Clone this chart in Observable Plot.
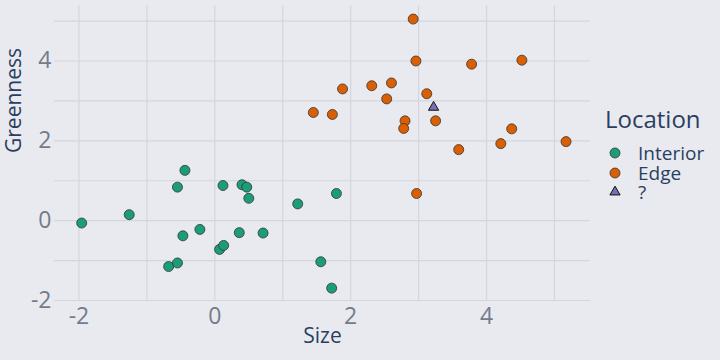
<!DOCTYPE html>
<html>
<head>
<meta charset="utf-8">
<script src="https://cdn.jsdelivr.net/npm/d3@7"></script>
<script src="https://cdn.jsdelivr.net/npm/@observablehq/plot@0.6"></script>
<style>
  html, body { margin: 0; padding: 0; background: #E9EAEF; }
  #wrap { position: relative; width: 720px; height: 360px; font-family: "Open Sans", sans-serif; }
  #legend { position: absolute; left: 590px; top: 90px; }
</style>
</head>
<body>
<div id="wrap"></div>
<script>
// Data
const interiorX = [-1.96, -1.26, -0.55, -0.44, 0.12, 0.40, 0.47, 0.50, 1.22, 1.79, 1.56, 1.72, -0.47, -0.22, 0.36, 0.71, 0.07, 0.13, -0.68, -0.55];
const interiorY = [-0.06, 0.15, 0.84, 1.26, 0.88, 0.90, 0.84, 0.56, 0.42, 0.68, -1.03, -1.69, -0.38, -0.22, -0.30, -0.31, -0.72, -0.62, -1.15, -1.06];
const edgeX = [2.92, 2.96, 3.78, 4.52, 1.88, 2.31, 2.60, 2.53, 3.12, 1.45, 1.73, 2.80, 2.78, 3.25, 4.37, 4.21, 3.59, 5.17, 2.97];
const edgeY = [5.05, 4.00, 3.92, 4.02, 3.30, 3.38, 3.45, 3.05, 3.18, 2.71, 2.66, 2.50, 2.31, 2.50, 2.30, 1.93, 1.78, 1.98, 0.68];
const unknownX = [3.22];
const unknownY = [2.84];
const locations = ["Interior", "Edge", "?"];
const colors = ["#1B9E77", "#D95F02", "#7570B3"];
const xTicks = [-2, 0, 2, 4];
const yTicks = [-2, 0, 2, 4];
const xGrid = [-2, -1, 0, 1, 2, 3, 4, 5];
const yGrid = [-2, -1, 0, 1, 2, 3, 4, 5];

const rows = [];
interiorX.forEach((x, i) => rows.push({x, y: interiorY[i], loc: "Interior"}));
edgeX.forEach((x, i) => rows.push({x, y: edgeY[i], loc: "Edge"}));
const unk = unknownX.map((x, i) => ({x, y: unknownY[i], loc: "?"}));

const gridColor = "#D3D6DD";
const tickColor = "#737B8C";
const titleColor = "#2A3F5F";
const fmt = d => String(d);

const chart = Plot.plot({
  width: 720,
  height: 360,
  marginLeft: 54,
  marginRight: 130,
  marginTop: 5,
  marginBottom: 60,
  style: { background: "#E9EAEF", fontFamily: "Open Sans, sans-serif", overflow: "visible" },
  x: { domain: [-2.36, 5.53] },
  y: { domain: [-2, 5.39] },
  color: { domain: locations, range: colors },
  marks: [
    Plot.ruleX(xGrid, { stroke: gridColor, strokeWidth: 1.2 }),
    Plot.ruleY(yGrid, { stroke: gridColor, strokeWidth: 1.2 }),
    Plot.axisX(xTicks, { tickSize: 0, tickPadding: 7, fontSize: 23, color: tickColor, label: null, tickFormat: fmt }),
    Plot.axisY(yTicks, { tickSize: 0, tickPadding: 3, fontSize: 23, color: tickColor, label: null, tickFormat: fmt }),
    Plot.text(["Size"], { frameAnchor: "bottom", dy: 42, fontSize: 21, fill: titleColor }),
    Plot.text(["Greenness"], { frameAnchor: "left", dx: -40, rotate: -90, fontSize: 21, fill: titleColor }),
    Plot.dot(rows, { x: "x", y: "y", fill: "loc", r: 5, stroke: "#333", strokeWidth: 0.8, symbol: "circle" }),
    Plot.dot(unk, { x: "x", y: "y", fill: "loc", r: 3.8, stroke: "#111", strokeWidth: 1, symbol: "triangle" })
  ]
});

const wrap = document.getElementById("wrap");
wrap.appendChild(chart);

// Legend
const ns = "http://www.w3.org/2000/svg";
const leg = document.createElementNS(ns, "svg");
leg.setAttribute("id", "legend");
leg.setAttribute("width", 130);
leg.setAttribute("height", 120);
const title = document.createElementNS(ns, "text");
title.setAttribute("x", 15);
title.setAttribute("y", 38);
title.setAttribute("font-size", 24);
title.setAttribute("fill", titleColor);
title.setAttribute("font-family", "Open Sans, sans-serif");
title.textContent = "Location";
leg.appendChild(title);
const ys = [63, 83, 102];
locations.forEach((l, i) => {
  let sym;
  if (l === "?") {
    sym = document.createElementNS(ns, "path");
    const s = d3.symbol(d3.symbolTriangle, 45)();
    sym.setAttribute("d", s);
    sym.setAttribute("transform", `translate(25,${ys[i]})`);
    sym.setAttribute("stroke", "#111");
  } else {
    sym = document.createElementNS(ns, "circle");
    sym.setAttribute("cx", 25);
    sym.setAttribute("cy", ys[i]);
    sym.setAttribute("r", 5);
    sym.setAttribute("stroke", "#333");
    sym.setAttribute("stroke-width", 0.8);
  }
  sym.setAttribute("fill", colors[i]);
  leg.appendChild(sym);
  const t = document.createElementNS(ns, "text");
  t.setAttribute("x", 48);
  t.setAttribute("y", ys[i] + 7);
  t.setAttribute("font-size", 19);
  t.setAttribute("fill", titleColor);
  t.setAttribute("font-family", "Open Sans, sans-serif");
  t.textContent = l;
  leg.appendChild(t);
});
wrap.appendChild(leg);
</script>
</body>
</html>
